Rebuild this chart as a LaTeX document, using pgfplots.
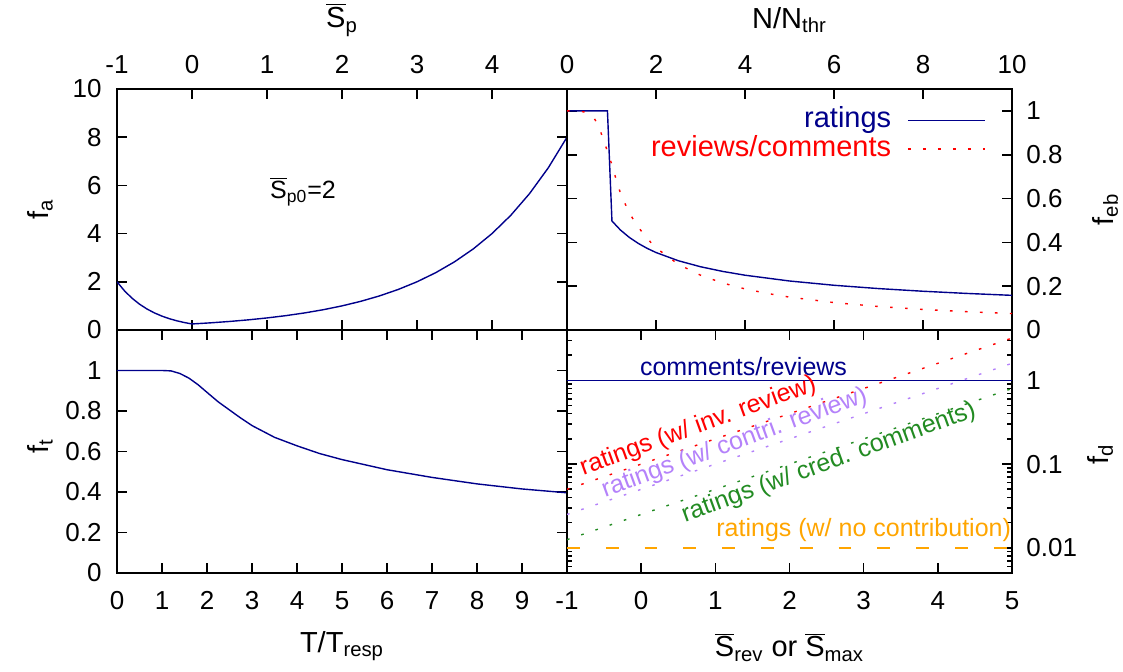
\documentclass[border=0pt]{standalone}
\usepackage{fontspec}
\setmainfont{Liberation Sans}
\usepackage{pgfplots}
\pgfplotsset{compat=1.18}
\definecolor{dnavy}{RGB}{0,0,139}
\definecolor{fgreen}{RGB}{34,139,34}
\definecolor{mpurple}{RGB}{180,130,250}
\definecolor{gorange}{RGB}{255,165,0}
\newcommand{\Sbar}{$\overline{\mbox{S}}$}
\newcommand{\tickfont}{\fontsize{13}{15}\selectfont}
\newcommand{\labfont}{\fontsize{14.5}{17}\selectfont}
\newcommand{\txtfont}{\fontsize{12.5}{15}\selectfont}
\pgfplotsset{gp/.style={
  scale only axis, clip mode=individual,
  axis line style={line width=1pt},
  tick style={black, line width=0.8pt},
  major tick length=5pt, minor tick length=2.5pt,
  tick align=inside,
  /pgf/number format/assume math mode=true,
  tick label style={font=\tickfont},
  label style={font=\labfont},
  every axis plot/.append style={line width=0.7pt},
  legend image code/.code={\draw[##1] (0pt,0pt) -- (38.5pt,0pt);},
}}
\tikzset{gpdot/.style={dash pattern=on 1.3pt off 6.2pt}}
\begin{document}
\begin{tikzpicture}
\useasboundingbox (0,0) rectangle (561.5pt,336pt);
% top-left
\begin{axis}[gp, at={(58.5pt,171pt)}, anchor=south west, width=225pt, height=120.5pt,
  xmin=-1, xmax=5, ymin=0, ymax=10,
  xtick={-1,0,1,2,3,4,5}, xticklabels={-1,0,1,2,3,4,{}}, xticklabel pos=right,
  ytick={0,2,4,6,8,10}, yticklabel pos=left,
  xticklabel style={yshift=4.2pt}, yticklabel style={xshift=-4.2pt},
  xlabel={\Sbar\textsubscript{p}}, ylabel={f\textsubscript{a}},
  xlabel style={at={(axis description cs:0.5,1.286)}, anchor=center},
  ylabel style={at={(axis description cs:-0.171,0.5)}, anchor=center}]
\addplot[dnavy] coordinates {(-1,2) (-0.9,1.6245) (-0.8,1.3195) (-0.7,1.0718) (-0.6,0.8706) (-0.5,0.7071) (-0.4,0.5743) (-0.3,0.4665) (-0.2,0.3789) (-0.1,0.3078) (0,0.25) (0.25,0.2973) (0.5,0.3536) (0.75,0.4204) (1,0.5) (1.25,0.5946) (1.5,0.7071) (1.75,0.8409) (2,1) (2.25,1.1892) (2.5,1.4142) (2.75,1.6818) (3,2) (3.25,2.3784) (3.5,2.8284) (3.75,3.3636) (4,4) (4.25,4.7568) (4.5,5.6569) (4.75,6.7272) (5,8)};
\node[font=\txtfont, anchor=center] at (axis cs:1.48,5.75) {\Sbar\textsubscript{p0}=2};
\end{axis}
% top-right
\begin{axis}[gp, at={(283.5pt,171pt)}, anchor=south west, width=222.5pt, height=120.5pt,
  xmin=0, xmax=10, ymin=0, ymax=1.1,
  xtick={0,2,4,6,8,10}, xticklabel pos=right,
  ytick={0,0.2,0.4,0.6,0.8,1}, yticklabel pos=right,
  xticklabel style={yshift=4.2pt}, yticklabel style={xshift=3.7pt},
  xlabel={N/N\textsubscript{thr}}, ylabel={f\textsubscript{eb}},
  xlabel style={at={(axis description cs:0.5,1.286)}, anchor=center},
  ylabel style={at={(axis description cs:1.209,0.5)}, anchor=center},
  legend plot pos=right, legend cell align=right,
  legend style={draw=none, fill=none, inner sep=0pt, font=\labfont,
    at={(axis description cs:1,1)}, anchor=north east, xshift=-13pt, yshift=-7.8pt,
    row sep=-1.2pt, column sep=7pt,
    nodes={inner sep=1pt, text height=10.5pt, text depth=3pt}}]
\addplot[dnavy] coordinates {(0,1) (0.909,1) (1.0101,0.4975) (1.2,0.4564) (1.4,0.4226) (1.6,0.3953) (1.8,0.3727) (2,0.3536) (2.5,0.3162) (3,0.2887) (3.5,0.2673) (4,0.25) (5,0.2236) (6,0.2041) (7,0.1890) (8,0.1768) (9,0.1667) (10,0.1581)};
\addlegendentry{\textcolor{dnavy}{ratings}}
\addplot[red, gpdot] coordinates {(0,1) (0.2,1) (0.4,0.995) (0.5,0.985) (0.6,0.97) (0.7,0.935) (0.8,0.88) (0.9,0.82) (1.0,0.76) (1.1,0.69) (1.2,0.625) (1.35,0.556) (1.5,0.5) (1.75,0.4286) (2,0.375) (2.5,0.3) (3,0.25) (3.5,0.2143) (4,0.1875) (4.5,0.1667) (5,0.15) (6,0.125) (7,0.1071) (8,0.0938) (9,0.0833) (10,0.075)};
\addlegendentry{\textcolor{red}{reviews/comments}}
\end{axis}
% bottom-left
\begin{axis}[gp, at={(58.5pt,49.5pt)}, anchor=south west, width=225pt, height=121.5pt,
  xmin=0, xmax=10, ymin=0, ymax=1.2,
  xtick={0,1,2,3,4,5,6,7,8,9,10}, xticklabels={0,1,2,3,4,5,6,7,8,9,{}},
  ytick={0,0.2,0.4,0.6,0.8,1},
  xticklabel style={yshift=-5.7pt}, yticklabel style={xshift=-4.2pt},
  xlabel={T/T\textsubscript{resp}}, ylabel={f\textsubscript{t}},
  xlabel style={at={(axis description cs:0.5,-0.30)}, anchor=center},
  ylabel style={at={(axis description cs:-0.171,0.52)}, anchor=center}]
\addplot[dnavy] coordinates {(0,1) (1,1) (1.2,0.998) (1.4,0.985) (1.6,0.962) (1.8,0.93) (2,0.892) (2.25,0.845) (2.5,0.805) (2.75,0.765) (3,0.728) (3.5,0.67) (4,0.628) (4.5,0.59) (5,0.56) (6,0.51) (7,0.472) (8,0.44) (9,0.415) (10,0.396)};
\end{axis}
% bottom-right
\begin{axis}[gp, at={(283.5pt,49.5pt)}, anchor=south west, width=222.5pt, height=121.5pt,
  xmin=-1, xmax=5, ymode=log, ymin=0.005, ymax=4,
  xtick={-1,0,1,2,3,4,5}, xticklabels={-1,0,1,2,3,4,5},
  ytick={0.01,0.1,1}, yticklabels={0.01,0.1,1}, yticklabel pos=right,
  minor ytick={0.005,0.006,0.007,0.008,0.009,0.02,0.03,0.04,0.05,0.06,0.07,0.08,0.09,0.2,0.3,0.4,0.5,0.6,0.7,0.8,0.9,2,3,4},
  xticklabel style={yshift=-5.7pt}, yticklabel style={xshift=3.7pt},
  xlabel={\Sbar\textsubscript{rev} or \Sbar\textsubscript{max}}, ylabel={f\textsubscript{d}},
  xlabel style={at={(axis description cs:0.5,-0.305)}, anchor=center},
  ylabel style={at={(axis description cs:1.198,0.49)}, anchor=center}]
\addplot[dnavy] coordinates {(-1,1) (5,1)};
\addplot[red, gpdot] coordinates {(-1,0.05) (5,3.2)};
\addplot[mpurple, gpdot] coordinates {(-1,0.025) (5,1.6)};
\addplot[fgreen, gpdot] coordinates {(-1,0.0125) (5,0.8)};
\addplot[color=gorange, line width=1pt, dash pattern=on 6.4pt off 13pt] coordinates {(-1,0.01) (5,0.01)};
\node[font=\txtfont, text=dnavy] at (axis cs:1.38,1.45) {comments/reviews};
\node[font=\txtfont, text=red, rotate=20] at (axis cs:0.77,0.28) {ratings (w/ inv. review)};
\node[font=\txtfont, text=mpurple, rotate=20] at (axis cs:1.26,0.178) {ratings (w/ contri. review)};
\node[font=\txtfont, text=fgreen, rotate=20] at (axis cs:2.53,0.103) {ratings (w/ cred. comments)};
\node[font=\txtfont, text=gorange] at (axis cs:3.0,0.0165) {ratings (w/ no contribution)};
\end{axis}
\end{tikzpicture}
\end{document}
